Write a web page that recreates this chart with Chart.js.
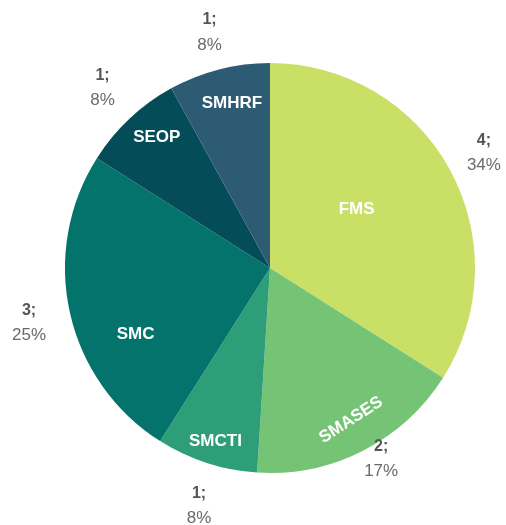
<!DOCTYPE html>
<html>
<head>
<meta charset="utf-8">
<script src="https://cdn.jsdelivr.net/npm/chart.js@4/dist/chart.umd.min.js"></script>
<style>
  html, body { margin: 0; padding: 0; background: #fff; }
  #wrap { width: 506px; height: 525px; }
</style>
</head>
<body>
<div id="wrap"><canvas id="pie" width="506" height="525"></canvas></div>
<script>
// --- data ---
const categories = ['FMS', 'SMASES', 'SMCTI', 'SMC', 'SEOP', 'SMHRF'];
const counts = [4, 2, 1, 3, 1, 1];
const percents = [34, 17, 8, 25, 8, 8];   // slice sizes follow the shown percentages
const sliceColors = ['#CADF66', '#75C476', '#2E9E79', '#04736B', '#044D58', '#2D5B74'];

// label placement: [radius factor, angle tweak in degrees]
const innerPos = [[0.51, -5.2], [0.84, -1.1], [0.885, -0.5], [0.73, -13.5], [0.845, 2.4], [0.825, 1.4]];
const outerPos = [[1.184, 0.6], [1.078, -3.2], [1.212, -1.4], [1.206, -0.3], [1.2, 0.3], [1.186, 0]];
const FONT = '"Liberation Sans", Arial, sans-serif';

const sliceLabels = {
    id: 'sliceLabels',
    afterDatasetsDraw(chart) {
        const ctx = chart.ctx;
        const meta = chart.getDatasetMeta(0);
        meta.data.forEach((arc, i) => {
            const p = arc.getProps(['x', 'y', 'startAngle', 'endAngle', 'outerRadius'], true);
            const mid = (p.startAngle + p.endAngle) / 2;

            // name inside the slice
            let a = mid + innerPos[i][1] * Math.PI / 180;
            let r = p.outerRadius * innerPos[i][0];
            const ix = p.x + Math.cos(a) * r, iy = p.y + Math.sin(a) * r;
            ctx.save();
            ctx.translate(ix, iy);
            if (categories[i] === 'SMASES') ctx.rotate(-33 * Math.PI / 180);
            ctx.fillStyle = '#fff';
            ctx.font = 'bold 17px ' + FONT;
            ctx.textAlign = 'center';
            ctx.textBaseline = 'middle';
            ctx.fillText(categories[i], 0, 0);
            ctx.restore();

            // count; percent outside
            a = mid + outerPos[i][1] * Math.PI / 180;
            r = p.outerRadius * outerPos[i][0];
            const ox = p.x + Math.cos(a) * r, oy = p.y + Math.sin(a) * r;
            ctx.save();
            ctx.textAlign = 'center';
            ctx.textBaseline = 'middle';
            ctx.fillStyle = '#555';
            ctx.font = 'bold 16px ' + FONT;
            ctx.fillText(counts[i] + ';', ox, oy - 12.5);
            ctx.fillStyle = '#6a6a6a';
            ctx.font = '17px ' + FONT;
            ctx.fillText(percents[i] + '%', ox, oy + 12.5);
            ctx.restore();
        });
    }
};

new Chart(document.getElementById('pie'), {
    type: 'pie',
    data: {
        labels: categories,
        datasets: [{
            data: percents,
            backgroundColor: sliceColors,
            borderWidth: 0,
            hoverOffset: 0
        }]
    },
    options: {
        responsive: false,
        animation: false,
        layout: { padding: { left: 65, right: 31, top: 63, bottom: 52 } },
        plugins: { legend: { display: false }, tooltip: { enabled: false } }
    },
    plugins: [sliceLabels]
});
</script>
</body>
</html>
